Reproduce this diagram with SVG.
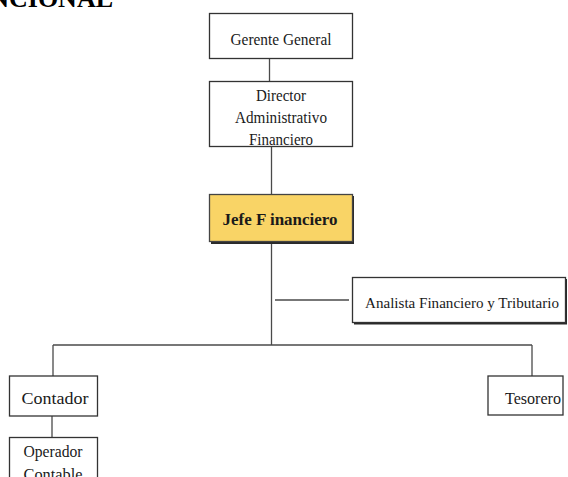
<svg xmlns="http://www.w3.org/2000/svg" width="568" height="477" viewBox="0 0 568 477">
  <style>
    .box { fill: #ffffff; stroke: #333333; stroke-width: 1.3; }
    .shadow { fill: #2a2a2a; }
    .head { fill: #f9d466; stroke: #444444; stroke-width: 1.3; }
    .lbl { font-family: "Liberation Serif", "Times New Roman", serif; font-size: 16.5px; fill: #1a1a1a; text-anchor: middle; }
    .bold { font-weight: bold; font-size: 17.5px; }
    .title { font-family: "Liberation Serif", "Times New Roman", serif; font-size: 26px; font-weight: bold; fill: #000; text-anchor: end; }
    .wire { stroke: #4a4a4a; stroke-width: 1.3; fill: none; }
  </style>

  <!-- page heading, cut at the top-left edge -->
  <text class="title" x="113" y="7">FUNCIONAL</text>

  <!-- connectors -->
  <g id="connectors">
    <line class="wire" x1="269.5" y1="58" x2="269.5" y2="81"/>
    <line class="wire" x1="271.5" y1="146" x2="271.5" y2="194"/>
    <line class="wire" x1="271.5" y1="242" x2="271.5" y2="345"/>
    <line class="wire" x1="275" y1="300" x2="349" y2="300"/>
    <line class="wire" x1="53" y1="345" x2="532" y2="345"/>
    <line class="wire" x1="53" y1="345" x2="53" y2="376"/>
    <line class="wire" x1="532" y1="345" x2="532" y2="376"/>
    <line class="wire" x1="52" y1="416" x2="52" y2="437"/>
  </g>

  <g id="gerente-general">
    <rect class="box" x="209.5" y="13.5" width="143" height="45"/>
    <text class="lbl" x="281" y="45" textLength="101" lengthAdjust="spacingAndGlyphs">Gerente General</text>
  </g>

  <g id="director-administrativo-financiero">
    <rect class="box" x="209.5" y="81.5" width="143" height="65"/>
    <text class="lbl" x="281" y="101" textLength="50" lengthAdjust="spacingAndGlyphs">Director</text>
    <text class="lbl" x="281" y="123" textLength="92" lengthAdjust="spacingAndGlyphs">Administrativo</text>
    <text class="lbl" x="281" y="145" textLength="64" lengthAdjust="spacingAndGlyphs">Financiero</text>
  </g>

  <g id="jefe-financiero">
    <rect class="shadow" x="211" y="196" width="143" height="48"/>
    <rect class="head" x="209.5" y="194.5" width="143" height="47"/>
    <text class="lbl bold" x="280" y="225" textLength="115" lengthAdjust="spacingAndGlyphs">Jefe F inanciero</text>
  </g>

  <g id="analista-financiero-tributario">
    <rect class="shadow" x="354" y="279" width="213" height="45.5"/>
    <rect class="box" x="352.5" y="277.5" width="213" height="45"/>
    <text class="lbl" x="462" y="308" font-size="15" style="font-size:15px" textLength="194" lengthAdjust="spacingAndGlyphs">Analista Financiero y Tributario</text>
  </g>

  <g id="contador">
    <rect class="box" x="9.5" y="376" width="88" height="40"/>
    <text class="lbl" x="55" y="404" textLength="67" lengthAdjust="spacingAndGlyphs">Contador</text>
  </g>

  <g id="tesorero">
    <rect class="box" x="488" y="376" width="75" height="39"/>
    <text class="lbl" x="533" y="403.5" textLength="56" lengthAdjust="spacingAndGlyphs">Tesorero</text>
  </g>

  <g id="operador-contable">
    <rect class="box" x="9.5" y="437.5" width="88" height="60"/>
    <text class="lbl" x="53" y="457" textLength="59" lengthAdjust="spacingAndGlyphs">Operador</text>
    <text class="lbl" x="53" y="480" textLength="59" lengthAdjust="spacingAndGlyphs">Contable</text>
  </g>
</svg>
